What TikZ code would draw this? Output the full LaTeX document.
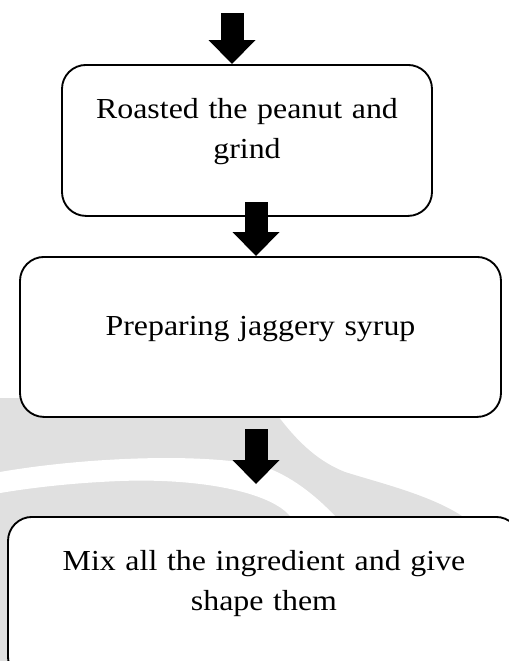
\documentclass[tikz,border=0pt]{standalone}
\usepackage{fontspec}
\setmainfont{Liberation Serif}[FakeStretch=1.1]
\usepackage{tikz}
\usetikzlibrary{arrows.meta}
\usetikzlibrary{calc}
\definecolor{watermark}{RGB}{224, 224, 224}

\begin{document}
\begin{tikzpicture}[x=0.75pt, y=-0.75pt,
        stepbox/.style={draw, line width=1.4pt, rounded corners=18pt, fill=white, inner sep=0pt, anchor=north, align=center, font=\fontsize{21.75}{30}\selectfont},
        blockarrow/.style={line width=17.25pt, -{Triangle[width=35.25pt, length=18pt, line width=0pt]}}]
                \clip (0, 0) rectangle (509, 661);

                % grey swoosh behind the lower steps
                \fill[watermark] (0, 398) -- (278, 398) -- (278, 416) .. controls (300, 445) and (320, 462) .. (345, 472)
                    .. controls (380, 483) and (430, 495) .. (462, 516) -- (462, 661) -- (0, 661) -- cycle;
                \fill[white] (0, 472) .. controls (80, 458) and (200, 452) .. (262, 466) .. controls (290, 475) and (315, 495) .. (335, 516)
                    -- (290, 516) .. controls (270, 492) and (200, 478) .. (120, 481) .. controls (70, 483) and (30, 488) .. (0, 493) -- cycle;

                \node[stepbox, text width=277.5pt, text height=40.5pt, text depth=72.75pt] (roast) at (247, 64) {Roasted the peanut and\\grind};
                \node[stepbox, text width=360.75pt, text height=59.25pt, text depth=60.75pt] (syrup) at (260.5, 256) {Preparing jaggery syrup};
                \node[stepbox, text width=384pt, text height=40.5pt, text depth=82.5pt] (mix) at (264, 516) {Mix all the ingredient and give\\shape them};

                \coordinate (start1) at (232, 13);
                \coordinate (start2) at (256, 202);
                \coordinate (start3) at (256, 429);
                \coordinate (end3) at (256, 484);

                \draw[blockarrow] (start1) -- (roast.north -| start1);
                \draw[blockarrow] (start2) -- (syrup.north -| start2);
                \draw[blockarrow] (start3) -- (end3);
\end{tikzpicture}
\end{document}
